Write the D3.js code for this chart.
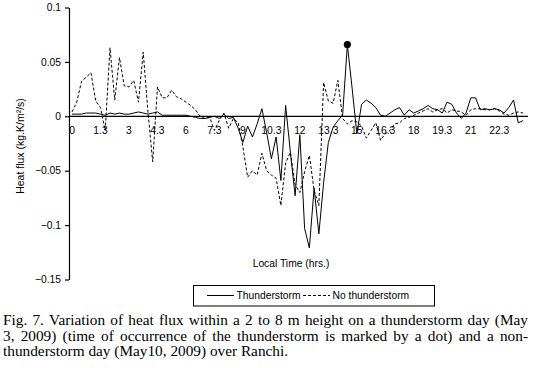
<!DOCTYPE html>
<html>
<head>
<meta charset="utf-8">
<script src="https://cdn.jsdelivr.net/npm/d3@7"></script>
<style>
  body { margin: 0; background: #fff; }
  svg { display: block; }
</style>
</head>
<body>
<div id="chart"></div>
<script>
// heat flux every 15 min, 00:00 .. 23:45 (kg.K/m2/s)
const thunderstorm = [
  0.002, 0.002, 0.002, 0.003, 0.003, 0.003, 0.002, 0.001, 0.003, 0.002,
  0.003, 0.002, 0.002, 0.003, 0.004, 0.003, 0.002, 0.003, 0.004, 0.001,
  0.001, 0.001, 0.001, 0.001, 0.001, 0.000, -0.001, -0.002, -0.002, -0.001,
  0.000, -0.002, 0.002, -0.002, -0.001, -0.011, -0.024, -0.009, -0.019, -0.007,
  0.007, -0.015, -0.039, -0.019, -0.059, 0.010, -0.033, -0.073, -0.017, -0.103,
  -0.121, -0.066, -0.108, -0.061, -0.024, -0.010, -0.004, 0.001, 0.066, 0.026,
  -0.016, 0.011, 0.015, 0.012, 0.008, 0.001, 0.000, 0.003, 0.006, 0.008,
  0.001, 0.006, 0.003, 0.005, 0.007, 0.010, 0.007, 0.006, 0.003, 0.013,
  0.011, 0.003, -0.002, 0.003, 0.017, 0.017, 0.006, 0.007, 0.006, 0.007,
  0.006, 0.003, 0.008, 0.015, -0.006, -0.004
];
const noThunderstorm = [
  0.004, 0.013, 0.032, 0.036, 0.040, 0.014, 0.008, -0.013, 0.063, 0.015,
  0.054, 0.028, 0.027, 0.033, 0.013, 0.059, 0.004, -0.042, 0.027, 0.017,
  0.017, 0.024, 0.018, 0.016, 0.013, 0.010, 0.006, 0.000, -0.002, -0.001,
  -0.013, -0.004, 0.003, -0.011, -0.002, -0.006, -0.028, -0.056, -0.050, -0.054,
  -0.034, -0.050, -0.054, -0.057, -0.082, -0.043, -0.033, -0.063, -0.070, -0.051,
  -0.036, -0.068, -0.082, 0.031, 0.014, 0.012, 0.033, -0.002, -0.007, -0.004,
  -0.005, -0.009, -0.020, -0.013, -0.006, -0.022, -0.016, -0.013, -0.007, -0.006,
  -0.002, -0.001, 0.001, 0.003, 0.005, 0.007, 0.004, 0.006, 0.007, 0.003,
  0.006, 0.005, 0.004, 0.001, 0.006, 0.007, 0.007, 0.006, 0.006, 0.007,
  0.005, 0.002, 0.001, 0.003, 0.004, 0.003
];
// time of the thunderstorm (index of the 14:30 reading)
const stormIndex = 58;

const xTickLabels = ["0", "1.3", "3", "4.3", "6", "7.3", "9", "10.3", "12", "13.3", "15", "16.3", "18", "19.3", "21", "22.3"];
const yTicks = [0.1, 0.05, 0, -0.05, -0.1, -0.15];
const legendNames = ["Thunderstorm", "No thunderstorm"];
const captionLines = [
  "Fig. 7. Variation of heat flux within a 2 to 8 m height on a thunderstorm day (May",
  "3, 2009) (time of occurrence of the thunderstorm is marked by a dot) and a non-",
  "thunderstorm day (May10, 2009) over Ranchi."
];

const width = 534, height = 368;
const sans = "'Liberation Sans', Arial, sans-serif";
const serif = "'Liberation Serif', 'Times New Roman', serif";

const svg = d3.select("#chart").append("svg")
  .attr("width", width)
  .attr("height", height)
  .attr("viewBox", `0 0 ${width} ${height}`);

const x = d3.scaleLinear().domain([0, thunderstorm.length - 1]).range([72, 523]);
const y = d3.scaleLinear().domain([-0.15, 0.1]).range([279.5, 7.5]);

// y axis
const yAxis = svg.append("g")
  .attr("transform", "translate(69,0)")
  .call(d3.axisLeft(y).tickValues(yTicks).tickSize(4).tickSizeOuter(0).tickPadding(4)
    .tickFormat(d => d === 0 ? "0" : d3.format(".2~f")(d)));
yAxis.selectAll("path, line").attr("stroke", "#000").attr("stroke-width", 1.2);
yAxis.selectAll("text").attr("font-family", sans).attr("font-size", 10.3).attr("fill", "#000");

svg.append("text")
  .attr("transform", `translate(20,${146}) rotate(-90)`)
  .attr("text-anchor", "middle")
  .attr("dominant-baseline", "central")
  .attr("font-family", sans)
  .attr("font-size", 10.5)
  .text("Heat flux (kg.K/m²/s)");

// x axis line at zero
svg.append("line")
  .attr("x1", 69).attr("x2", 528)
  .attr("y1", y(0)).attr("y2", y(0))
  .attr("stroke", "#000").attr("stroke-width", 1.2);

svg.append("g").selectAll("text")
  .data(xTickLabels)
  .join("text")
  .attr("x", (d, i) => x(i * 6))
  .attr("y", y(0) + 17.5)
  .attr("text-anchor", "middle")
  .attr("font-family", sans)
  .attr("font-size", 10.3)
  .text(d => d);

svg.append("text")
  .attr("x", 291).attr("y", 266.5)
  .attr("text-anchor", "middle")
  .attr("font-family", sans)
  .attr("font-size", 10.3)
  .text("Local Time (hrs.)");

// series
const line = d3.line().x((d, i) => x(i)).y(d => y(d));

svg.append("path")
  .datum(noThunderstorm)
  .attr("fill", "none")
  .attr("stroke", "#000")
  .attr("stroke-width", 1)
  .attr("stroke-dasharray", "3,2")
  .attr("d", line);

svg.append("path")
  .datum(thunderstorm)
  .attr("fill", "none")
  .attr("stroke", "#000")
  .attr("stroke-width", 1)
  .attr("d", line);

svg.append("circle")
  .attr("cx", x(stormIndex))
  .attr("cy", y(thunderstorm[stormIndex]))
  .attr("r", 3.6)
  .attr("fill", "#000");

// legend
const leg = svg.append("g");
leg.append("rect")
  .attr("x", 193.5).attr("y", 285.5)
  .attr("width", 241).attr("height", 20.5)
  .attr("fill", "none").attr("stroke", "#000").attr("stroke-width", 1);
leg.append("line").attr("x1", 207).attr("x2", 234).attr("y1", 295.5).attr("y2", 295.5)
  .attr("stroke", "#000").attr("stroke-width", 1);
leg.append("text").attr("x", 236.5).attr("y", 299)
  .attr("font-family", sans).attr("font-size", 10.3).text(legendNames[0]);
leg.append("line").attr("x1", 303).attr("x2", 330).attr("y1", 295.5).attr("y2", 295.5)
  .attr("stroke", "#000").attr("stroke-width", 1).attr("stroke-dasharray", "3,2");
leg.append("text").attr("x", 332.5).attr("y", 299)
  .attr("font-family", sans).attr("font-size", 10.3).text(legendNames[1]);

// caption, first two lines justified
const capX0 = 3, capX1 = 528;
const capY = [325, 340.5, 356];
captionLines.forEach((ln, li) => {
  const t = svg.append("text")
    .attr("y", capY[li])
    .attr("font-family", serif)
    .attr("font-size", 15.3)
    .attr("fill", "#000");
  if (li === captionLines.length - 1) {
    t.attr("x", capX0).text(ln);
    return;
  }
  const words = ln.split(" ");
  const spans = words.map(w => t.append("tspan").text(w));
  const widths = spans.map(s => s.node().getComputedTextLength());
  const gap = Math.max(2.5, (capX1 - capX0 - d3.sum(widths)) / (words.length - 1));
  let cx = capX0;
  spans.forEach((s, i) => {
    s.attr("x", cx);
    cx += widths[i] + gap;
  });
});
</script>
</body>
</html>
